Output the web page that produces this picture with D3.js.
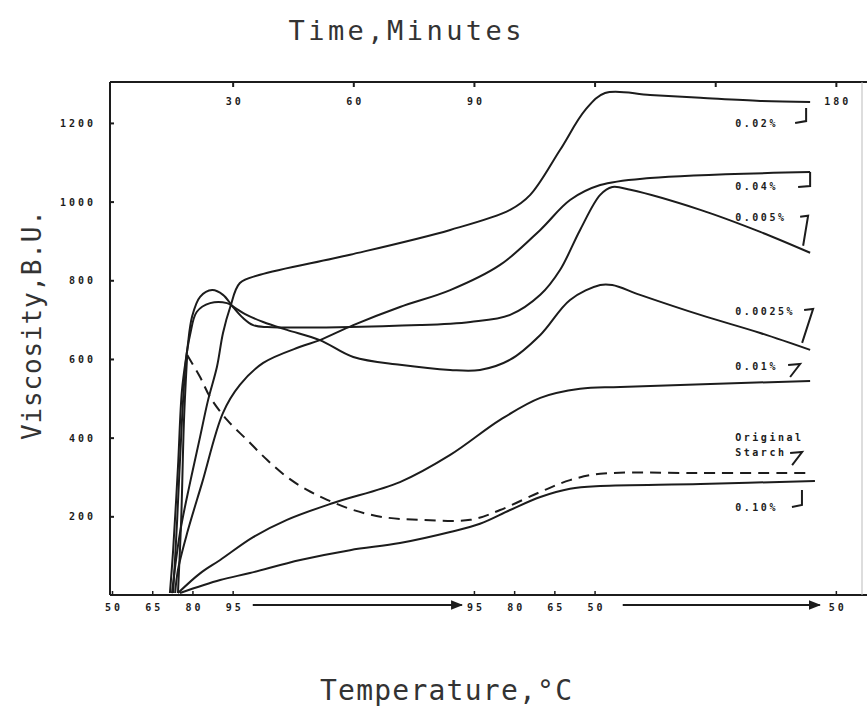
<!DOCTYPE html>
<html>
<head>
<meta charset="utf-8">
<script src="https://cdn.jsdelivr.net/npm/d3@7"></script>
<style>
  body { margin: 0; background: #fff; }
  svg { display: block; }
</style>
</head>
<body>
<div id="chart"></div>
<script>
//amylograph curves, time in minutes, viscosity in B.U.

const t002 = [14.9, 16.9, 19.4, 21.9, 23.9, 26.1, 27.6, 29.4, 31.8, 36.8, 59.2, 84.1, 99.0, 104.0, 111.4, 117.7, 122.6, 133.8, 146.3, 161.2, 173.6];
const v002 = [5, 158, 285, 402, 496, 580, 666, 732, 793, 814, 865, 928, 979, 1017, 1131, 1233, 1276, 1271, 1264, 1256, 1253];

const t004 = [15.7, 16.4, 18.7, 22.4, 27.6, 31.8, 37.6, 46.8, 51.7, 60.0, 71.6, 84.1, 96.5, 106.5, 113.9, 121.4, 133.8, 173.6];
const v004 = [5, 64, 158, 285, 463, 534, 590, 631, 648, 686, 732, 775, 839, 928, 1004, 1042, 1060, 1075];

const t0005 = [14.4, 15.2, 16.4, 17.4, 18.7, 19.9, 21.9, 24.9, 27.6, 30.1, 32.6, 35.1, 38.6, 76.6, 89.1, 99.0, 106.5, 111.4, 116.4, 121.4, 124.4, 128.9, 146.3, 161.2, 173.6];
const v0005 = [5, 114, 325, 521, 623, 707, 758, 775, 763, 732, 704, 686, 681, 686, 694, 712, 763, 826, 928, 1017, 1037, 1030, 979, 923, 870];

const t00025 = [15.2, 16.2, 17.4, 18.4, 19.4, 21.1, 24.4, 28.6, 30.6, 33.1, 37.6, 43.5, 51.7, 60.0, 71.6, 84.1, 91.5, 99.0, 106.5, 113.9, 121.4, 124.4, 131.3, 146.3, 161.2, 173.6];
const v00025 = [5, 191, 445, 598, 661, 720, 742, 742, 730, 714, 694, 674, 648, 605, 585, 572, 572, 598, 661, 750, 788, 788, 763, 712, 666, 623];

const t001 = [16.4, 21.9, 26.9, 35.1, 43.5, 55.0, 71.6, 84.1, 96.5, 106.5, 116.4, 126.4, 173.6];
const v001 = [5, 55, 89, 147, 191, 234, 287, 356, 445, 501, 524, 529, 544];

const t010 = [16.9, 26.9, 34.3, 46.8, 59.2, 71.6, 84.1, 91.5, 99.0, 106.5, 113.9, 121.4, 146.3, 174.8];
const v010 = [5, 38, 56, 89, 114, 132, 160, 181, 216, 249, 270, 277, 282, 290];

//original starch: solid rise, then dashed from the peak (index 3)
const tStarch = [16.4, 17.2, 17.9, 18.7, 21.9, 24.4, 28.6, 33.6, 38.6, 43.5, 48.5, 53.5, 60.0, 67.4, 76.6, 89.1, 96.5, 106.5, 113.9, 121.4, 146.3, 173.6];
const vStarch = [5, 191, 445, 610, 554, 503, 445, 394, 343, 300, 267, 242, 216, 198, 191, 191, 216, 262, 292, 308, 310, 310];
const starchPeak = 3;

//axis ticks
const yTicks = [200, 400, 600, 800, 1000, 1200];
const yLabels = ["200", "400", "600", "800", "1000", "1200"];
const timeTicks = [30, 60, 90, 120, 150, 180];
const timeLabels = ["30", "60", "90", "", "", "180"];
const tempTicks = [0, 10, 20, 30, 90, 100, 110, 120, 180];
const tempLabels = ["50", "65", "80", "95", "95", "80", "65", "50", "50"];
const tempArrows = [[35, 87], [127, 176]];

const width = 867, height = 710;

const svg = d3.select("#chart").append("svg")
    .attr("width", width)
    .attr("height", height);

const x = d3.scaleLinear().domain([-0.5, 186.5]).range([110, 862]);
const y = d3.scaleLinear().domain([0, 1304]).range([595, 82]);

const ink = "#1c1c1c";

svg.append("defs").append("marker")
    .attr("id", "arrow")
    .attr("viewBox", "0 0 10 10")
    .attr("refX", 9).attr("refY", 5)
    .attr("markerWidth", 6).attr("markerHeight", 6)
    .attr("orient", "auto")
    .append("path")
    .attr("d", "M0,1 L10,5 L0,9 z")
    .attr("fill", ink);

//frame
const frame = svg.append("g")
    .attr("stroke", ink)
    .attr("stroke-width", 2)
    .attr("fill", "none");
frame.append("line").attr("x1", 110).attr("x2", 867).attr("y1", 82).attr("y2", 82);
frame.append("line").attr("x1", 110).attr("x2", 867).attr("y1", 595).attr("y2", 595);
frame.append("line").attr("x1", 110).attr("x2", 110).attr("y1", 82).attr("y2", 595);
frame.append("line").attr("x1", 862).attr("x2", 862).attr("y1", 82).attr("y2", 595)
    .attr("stroke", "#bbb").attr("stroke-width", 1);

//left axis
const leftAxis = d3.axisRight(y)
    .tickValues(yTicks)
    .tickSize(4)
    .tickFormat("");
svg.append("g")
    .attr("transform", "translate(110,0)")
    .call(leftAxis)
    .call(g => g.select(".domain").remove())
    .call(g => g.selectAll("line").attr("stroke", ink).attr("stroke-width", 2));

svg.append("g")
    .selectAll("text")
    .data(yTicks)
    .enter()
    .append("text")
    .attr("x", 96)
    .attr("y", d => y(d) + 4)
    .attr("text-anchor", "end")
    .attr("font-family", "DejaVu Sans Mono")
    .attr("font-weight", "bold")
    .attr("font-size", 10)
    .attr("letter-spacing", 3)
    .attr("fill", ink)
    .text((d, i) => yLabels[i]);

//top axis (time)
const topAxis = d3.axisBottom(x)
    .tickValues(timeTicks)
    .tickSize(5)
    .tickFormat("");
svg.append("g")
    .attr("transform", "translate(0,82)")
    .call(topAxis)
    .call(g => g.select(".domain").remove())
    .call(g => g.selectAll("line").attr("stroke", ink).attr("stroke-width", 2));

svg.append("g")
    .selectAll("text")
    .data(timeTicks)
    .enter()
    .append("text")
    .attr("x", d => x(d) + 2)
    .attr("y", 105)
    .attr("text-anchor", "middle")
    .attr("font-family", "DejaVu Sans Mono")
    .attr("font-weight", "bold")
    .attr("font-size", 10)
    .attr("letter-spacing", 3)
    .attr("fill", ink)
    .text((d, i) => timeLabels[i]);

//bottom axis (temperature program)
const bottomAxis = d3.axisTop(x)
    .tickValues(tempTicks)
    .tickSize(4)
    .tickFormat("");
svg.append("g")
    .attr("transform", "translate(0,595)")
    .call(bottomAxis)
    .call(g => g.select(".domain").remove())
    .call(g => g.selectAll("line").attr("stroke", ink).attr("stroke-width", 1.5));

svg.append("g")
    .selectAll("text")
    .data(tempTicks)
    .enter()
    .append("text")
    .attr("x", d => x(d) + 2)
    .attr("y", 611)
    .attr("text-anchor", "middle")
    .attr("font-family", "DejaVu Sans Mono")
    .attr("font-weight", "bold")
    .attr("font-size", 10)
    .attr("letter-spacing", 3)
    .attr("fill", ink)
    .text((d, i) => tempLabels[i]);

svg.append("g")
    .selectAll("line")
    .data(tempArrows)
    .enter()
    .append("line")
    .attr("x1", d => x(d[0]))
    .attr("x2", d => x(d[1]))
    .attr("y1", 605)
    .attr("y2", 605)
    .attr("stroke", ink)
    .attr("stroke-width", 2)
    .attr("marker-end", "url(#arrow)");

//curves
function pts(t, v) {
    return t.map((d, i) => [d, v[i]]);
}

const starchPts = pts(tStarch, vStarch);

const series = [
    { p: pts(t002, v002), dash: null },
    { p: pts(t004, v004), dash: null },
    { p: pts(t0005, v0005), dash: null },
    { p: pts(t00025, v00025), dash: null },
    { p: pts(t001, v001), dash: null },
    { p: pts(t010, v010), dash: null },
    { p: starchPts.slice(0, starchPeak + 1), dash: null },
    { p: starchPts.slice(starchPeak), dash: "11,7" }
];

const line = d3.line()
    .x(d => x(d[0]))
    .y(d => y(d[1]))
    .curve(d3.curveCatmullRom.alpha(0.5));

svg.append("g")
    .selectAll("path")
    .data(series)
    .enter()
    .append("path")
    .attr("d", s => line(s.p))
    .attr("fill", "none")
    .attr("stroke", ink)
    .attr("stroke-width", 2)
    .attr("stroke-dasharray", s => s.dash);

//curve labels with leader brackets, placed relative to each curve's end
function endPoint(t, v) {
    return [x(t[t.length - 1]), y(v[v.length - 1])];
}

const labels = [
    { text: ["0.02%"], end: endPoint(t002, v002), dy: [25], bracket: [[-4, 6], [-4, 19], [-15, 21]] },
    { text: ["0.04%"], end: endPoint(t004, v004), dy: [18], bracket: [[0, 0], [0, 14], [-12, 15]] },
    { text: ["0.005%"], end: endPoint(t0005, v0005), dy: [-32], bracket: [[-10, -36], [-2, -37], [-7, -7]] },
    { text: ["0.0025%"], end: endPoint(t00025, v00025), dy: [-35], bracket: [[-6, -40], [3, -41], [-8, -7]] },
    { text: ["0.01%"], end: endPoint(t001, v001), dy: [-11], bracket: [[-22, -16], [-10, -17], [-20, -4]] },
    { text: ["Original", "Starch"], end: endPoint(tStarch, vStarch), dy: [-32, -17], bracket: [[-20, -20], [-8, -21], [-18, -8]] },
    { text: ["0.10%"], end: endPoint(t010, v010), dy: [30], bracket: [[-13, 9], [-13, 24], [-23, 26]] }
];

const lab = svg.append("g");
labels.forEach(function(l) {
    l.text.forEach(function(s, i) {
        lab.append("text")
            .attr("x", x(155))
            .attr("y", l.end[1] + l.dy[i])
            .attr("font-family", "DejaVu Sans Mono")
            .attr("font-weight", "bold")
            .attr("font-size", 10)
            .attr("letter-spacing", 2.5)
            .attr("fill", ink)
            .text(s);
    });
    lab.append("path")
        .attr("d", d3.line()(l.bracket.map(p => [l.end[0] + p[0], l.end[1] + p[1]])))
        .attr("fill", "none")
        .attr("stroke", ink)
        .attr("stroke-width", 2);
});

//axis titles
svg.append("text")
    .attr("x", 405)
    .attr("y", 40)
    .attr("text-anchor", "middle")
    .attr("font-family", "DejaVu Sans Mono")
    .attr("font-size", 27)
    .attr("textLength", 233)
    .attr("lengthAdjust", "spacing")
    .attr("fill", "#333")
    .text("Time,Minutes");

svg.append("text")
    .attr("x", 446)
    .attr("y", 700)
    .attr("text-anchor", "middle")
    .attr("font-family", "DejaVu Sans Mono")
    .attr("font-size", 28)
    .attr("textLength", 252)
    .attr("lengthAdjust", "spacing")
    .attr("fill", "#333")
    .text("Temperature,°C");

svg.append("text")
    .attr("transform", "translate(41,325) rotate(-90)")
    .attr("text-anchor", "middle")
    .attr("font-family", "DejaVu Sans Mono")
    .attr("font-size", 26)
    .attr("textLength", 230)
    .attr("lengthAdjust", "spacing")
    .attr("fill", "#333")
    .text("Viscosity,B.U.");
</script>
</body>
</html>
